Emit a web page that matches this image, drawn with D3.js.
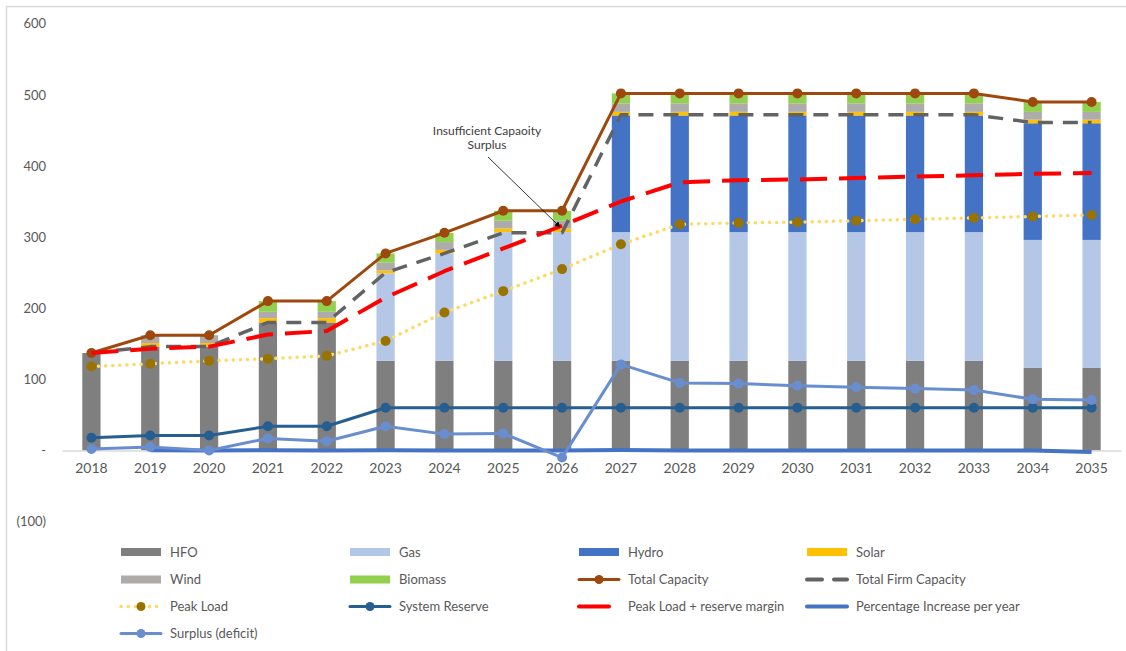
<!DOCTYPE html>
<html>
<head>
<meta charset="utf-8">
<script src="https://cdn.jsdelivr.net/npm/d3@7/dist/d3.min.js"></script>
<style>
  html, body { margin: 0; padding: 0; background: #fff; }
  svg { display: block; font-family: Lato, "Open Sans", "Liberation Sans", sans-serif; }
</style>
</head>
<body>
<svg id="chart" width="1126" height="651"></svg>
<script>
const years = ["2018","2019","2020","2021","2022","2023","2024","2025","2026","2027","2028","2029","2030","2031","2032","2033","2034","2035"];

const hfo     = [137,146,146,180,180,126,126,126,126,126,126,126,126,126,126,126,116,116];
const gas     = [0,0,0,0,0,123,151,181,181,181,181,181,181,181,181,181,180,180];
const hydro   = [0,0,0,0,0,0,0,0,0,164,164,164,164,164,164,164,164,164];
const solar   = [0,5,5,6,6,4,5,5,5,5,5,5,5,5,5,5,5,5];
const wind    = [0,11,11,9,9,11,11,11,11,12,12,12,12,12,12,12,11,11];
const biomass = [0,0,0,15,15,13,13,14,14,14,14,14,14,14,14,14,14,14];

const totalCapacity  = [137,162,162,210,210,277,306,337,337,502,502,502,502,502,502,502,490,490];
const totalFirm      = [137,146,146,180,180,250,277,306,306,472,472,472,472,472,472,472,461,461];
const peakLoad       = [118,122,126,129,133,154,194,224,255,290,318,320,321,323,325,327,329,331];
const systemReserve  = [18,21,21,34,34,60,60,60,60,60,60,60,60,60,60,60,60,60];
const peakPlusMargin = [137,143,146,163,168,215,252,284,316,350,377,380,381,383,385,387,389,390];
const pctIncrease    = [null,0.18,0,0.3,0,0.32,0.1,0.1,0,0.49,0,0,0,0,0,0,0,-2];
const surplus        = [2,5,0,17,13,34,23,24,-10,121,95,94,91,89,87,85,72,71];

const yTicks = [-100,0,100,200,300,400,500,600];
const yTickLabels = ["(100)","-","100","200","300","400","500","600"];

const barSeries = [
  {key:"HFO", values:hfo, color:"#7F7F7F"},
  {key:"Gas", values:gas, color:"#B4C7E7"},
  {key:"Hydro", values:hydro, color:"#4472C4"},
  {key:"Solar", values:solar, color:"#FFC000"},
  {key:"Wind", values:wind, color:"#AEABAB"},
  {key:"Biomass", values:biomass, color:"#92D050"}
];

const svg = d3.select("#chart");

// chart border
svg.append("rect").attr("x",6.5).attr("y",6.5).attr("width",1140).attr("height",660)
  .attr("fill","none").attr("stroke","#D9D9D9").attr("stroke-width",1.5);

const x = d3.scaleBand().domain(years).range([62,1121]).paddingInner(0.69).paddingOuter(0.345);
const y = d3.scaleLinear().domain([-100,600]).range([521.6,23.7]);
const cx = d => x(d) + x.bandwidth()/2;

// y axis labels
const yAxis = d3.axisLeft(y).tickValues(yTicks).tickFormat((d,i)=>yTickLabels[i]).tickSize(0).tickPadding(0);
const gy = svg.append("g").attr("transform","translate(46,0)").call(yAxis);
gy.select(".domain").remove();
gy.selectAll("text").attr("fill","#595959").style("font-size","13px").style("font-family","Lato, sans-serif");

// stacked bars
const tableRows = years.map((yr,i)=>{ const r={year:yr}; barSeries.forEach(s=>r[s.key]=s.values[i]); return r; });
const stack = d3.stack().keys(barSeries.map(s=>s.key));
const stacked = stack(tableRows);
svg.append("g").selectAll("g").data(stacked).join("g")
  .attr("fill",(d,i)=>barSeries[i].color)
  .selectAll("rect").data(d=>d).join("rect")
  .attr("x",d=>x(d.data.year))
  .attr("width",x.bandwidth())
  .attr("y",d=>y(d[1]))
  .attr("height",d=>Math.max(0,y(d[0])-y(d[1])));

// x axis
const xAxis = d3.axisBottom(x).tickSize(0).tickPadding(13);
const gx = svg.append("g").attr("transform",`translate(0,${y(0)})`).call(xAxis);
gx.select(".domain").attr("stroke","#D9D9D9").attr("stroke-width",1.5);
gx.selectAll("text").attr("fill","#595959").style("font-size","14px").style("font-family","Lato, sans-serif");

const lineDef = d3.line().defined(d=>d.v!=null).x(d=>cx(d.yr)).y(d=>y(d.v));

function drawLine(values, opts){
  const pts = values.map((v,i)=>({yr:years[i], v:v}));
  const g = svg.append("g");
  g.append("path").datum(pts).attr("d",lineDef)
    .attr("fill","none").attr("stroke",opts.color).attr("stroke-width",opts.width)
    .attr("stroke-dasharray",opts.dash||null).attr("stroke-linecap",opts.cap||"butt")
    .attr("stroke-linejoin","round");
  if(opts.marker){
    g.selectAll("circle").data(pts.filter(d=>d.v!=null)).join("circle")
      .attr("cx",d=>cx(d.yr)).attr("cy",d=>y(d.v)).attr("r",opts.r||5)
      .attr("fill",opts.marker);
  }
}

drawLine(totalCapacity,{color:"#9E480E",width:3,marker:"#9E480E"});
drawLine(totalFirm,{color:"#636363",width:3.5,dash:"15,10"});
drawLine(peakLoad,{color:"#FFD966",width:3.5,dash:"0.1,7",cap:"round",marker:"#997300"});
drawLine(systemReserve,{color:"#255E91",width:3,marker:"#255E91"});
drawLine(peakPlusMargin,{color:"#FF0000",width:4,dash:"27,12"});
drawLine(pctIncrease,{color:"#4472C4",width:4});
drawLine(surplus,{color:"#698ED0",width:3,marker:"#698ED0"});

// annotation
const defs = svg.append("defs");
defs.append("marker").attr("id","arrow").attr("viewBox","0 0 10 10").attr("refX",9).attr("refY",5)
  .attr("markerWidth",7).attr("markerHeight",7).attr("orient","auto-start-reverse")
  .append("path").attr("d","M0,0 L10,5 L0,10 z").attr("fill","#000");
svg.append("line").attr("x1",488).attr("y1",157).attr("x2",560).attr("y2",227)
  .attr("stroke","#000").attr("stroke-width",0.8).attr("marker-end","url(#arrow)");
const ann = svg.append("text").attr("text-anchor","middle").attr("fill","#404040")
  .style("font-size","12px");
ann.append("tspan").attr("x",487).attr("y",135).text("Insufficient Capaoity");
ann.append("tspan").attr("x",487).attr("y",149).text("Surplus");

// legend
const legendItems = [
  {label:"HFO", type:"bar", color:"#7F7F7F"},
  {label:"Gas", type:"bar", color:"#B4C7E7"},
  {label:"Hydro", type:"bar", color:"#4472C4"},
  {label:"Solar", type:"bar", color:"#FFC000"},
  {label:"Wind", type:"bar", color:"#AEABAB"},
  {label:"Biomass", type:"bar", color:"#92D050"},
  {label:"Total Capacity", type:"line", color:"#9E480E", marker:"#9E480E", width:3},
  {label:"Total Firm Capacity", type:"line", color:"#636363", width:4, dash:"15,12"},
  {label:"Peak Load", type:"line", color:"#FFD966", marker:"#997300", width:3.5, dash:"0.1,7", cap:"round"},
  {label:"System Reserve", type:"line", color:"#255E91", marker:"#255E91", width:3},
  {label:"Peak Load + reserve margin", type:"line", color:"#FF0000", width:4, dash:"30,20"},
  {label:"Percentage Increase per year", type:"line", color:"#4472C4", width:4},
  {label:"Surplus (deficit)", type:"line", color:"#698ED0", marker:"#698ED0", width:3}
];
const colX = [121, 350, 579, 807];
const rowY = [552, 579.5, 606.5, 633.5];
const lg = svg.append("g");
legendItems.forEach((it,i)=>{
  const c = i%4, r = Math.floor(i/4);
  const x0 = colX[c], yy = rowY[r];
  const g = lg.append("g");
  if(it.type==="bar"){
    g.append("rect").attr("x",x0).attr("y",yy-4).attr("width",40).attr("height",8).attr("fill",it.color);
  } else {
    g.append("line").attr("x1",x0).attr("x2",x0+40).attr("y1",yy).attr("y2",yy)
      .attr("stroke",it.color).attr("stroke-width",it.width)
      .attr("stroke-dasharray",it.dash||null).attr("stroke-linecap",it.cap||"round");
    if(it.marker) g.append("circle").attr("cx",x0+20).attr("cy",yy).attr("r",4.5).attr("fill",it.marker);
  }
  g.append("text").attr("x",x0+49).attr("y",yy).attr("dy","0.35em").attr("fill","#595959")
    .style("font-size","13px").text(it.label);
});
</script>
</body>
</html>
